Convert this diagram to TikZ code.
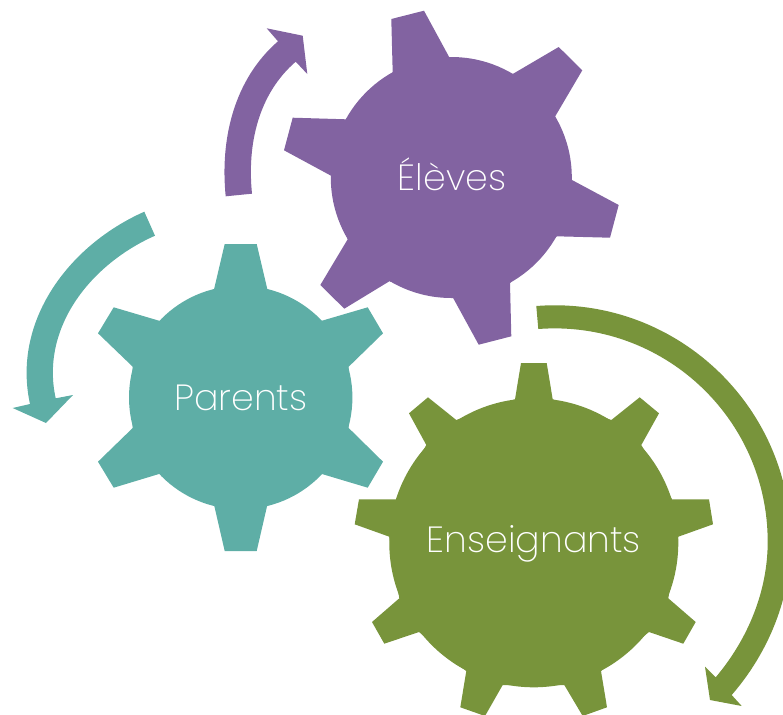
\documentclass[tikz,border=0pt]{standalone}
\usepackage{fontspec}
\setmainfont{Poppins ExtraLight}
\definecolor{gpurple}{HTML}{8263A1}
\definecolor{gteal}{HTML}{5EAEA6}
\definecolor{ggreen}{HTML}{78943B}
\tikzset{lbl/.style={text=white,font=\fontsize{27.3}{30}\selectfont,inner sep=0pt,anchor=base}}
\begin{document}
\begin{tikzpicture}[x=0.75pt,y=-0.75pt]
\useasboundingbox (0,0) rectangle (783,715);
\clip (0,0) rectangle (783,715);
% purple gear
\fill[gpurple] (451.3,177.5) circle[radius=120.5*0.75pt];
\fill[gpurple] (392.7,72.7)--(391.3,19)--(424,10.7)--(449.3,57.3)
 --(512.7,74)--(558.7,47)--(582.3,70.3)--(555,116.7)
 --(572,180)--(618.7,205)--(610,237.7)--(556.7,236.3)
 --(510,283)--(511.3,336.3)--(478.7,344.7)--(453.3,298.3)
 --(389.3,281.3)--(344.3,308.7)--(320.3,285)--(347.7,239.3)
 --(331,175.7)--(284,150.3)--(292.7,117.7)--(346,119.3)--cycle;
% teal gear
\fill[gteal] (240.7,397.5) circle[radius=111.7*0.75pt];
\fill[gteal] (213.7,290.7)--(224.7,244)--(256.7,244)--(267.7,290.7)
 --(321,321)--(367.7,307.3)--(383,333.3)--(348.7,366.7)
 --(348.7,428)--(383,461.7)--(367.7,487.7)--(321,473.7)
 --(267.7,503.3)--(256.7,551)--(224.7,551)--(213.7,503.3)
 --(160,473.7)--(113.7,487.7)--(98,461.7)--(132.7,428)
 --(132.7,366.7)--(98,333.3)--(113.7,307.3)--(160,321)--cycle;
% green gear
\fill[ggreen] (533.8,542.8) circle[radius=144.5*0.75pt];
\fill[ggreen] (515,399.3)--(521,363)--(546.7,363)--(552.7,399.3)
 --(611.3,420)--(639.7,397.3)--(659,413.3)--(641.3,445)
 --(672,499.3)--(709,499.3)--(713,524.3)--(678.3,536.7)
 --(668.3,598.3)--(695.7,622)--(683.3,643.7)--(649,632)
 --(601,671)--(607,707.3)--(582.7,716)--(564.3,685)
 --(502.7,685)--(485,716)--(460.3,707.3)--(466.3,671)
 --(419,632)--(384.3,643.7)--(372,622)--(399.3,598.3)
 --(389.3,536.7)--(354.7,524.3)--(359,499.3)--(396,499.3)
 --(426.3,445)--(409,413.3)--(428,397.3)--(456.3,420)--cycle;
% purple arrow
\fill[gpurple] (225.7,196.3) .. controls (219.9,138.6) and (234.2,79.3) .. (278,41.3)
 --(266.7,28.3)--(302.7,35.7)--(307.3,74)--(295.7,61.7)
 .. controls (258.3,94.1) and (247,144.4) .. (252,193.7)--cycle;
% teal arrow
\fill[gteal] (144.3,211.7) .. controls (67.6,245.8) and (12,322.1) .. (30,404)
 --(12.7,408)--(46,423)--(73,395)--(55.7,398.3)
 .. controls (40.3,328.5) and (89.7,264.7) .. (155,235.7)--cycle;
% green arrow
\fill[ggreen] (536.3,306) .. controls (673.6,295.4) and (790.8,404) .. (790.8,541.7)
 .. controls (790.8,598.1) and (768.6,652.4) .. (731.7,695)
 --(741.7,706)--(710,700)--(705,666.7)--(715.7,677.3)
 .. controls (747.8,639.2) and (767.7,591.5) .. (767.7,541.7)
 .. controls (767.7,417.5) and (662.1,319.6) .. (538.3,329)--cycle;
% labels
\node[lbl] (eleves) at (452,190) {Élèves};
\node[lbl] (parents) at (241,410) {Parents};
\node[lbl] (enseignants) at (534,552) {Enseignants};
\end{tikzpicture}
\end{document}
